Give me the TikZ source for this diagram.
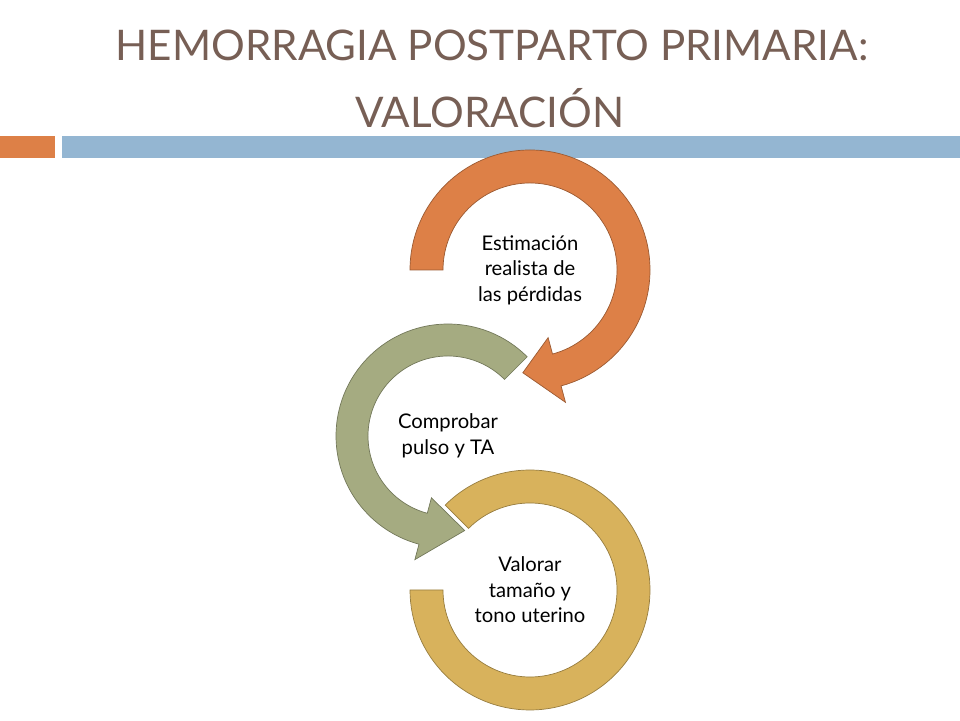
\documentclass[tikz,border=0pt]{standalone}
\usepackage{fontspec}
\setmainfont{Lato}
\usetikzlibrary{positioning,calc}

\definecolor{accorange}{HTML}{DD8047}
\definecolor{accblue}{HTML}{94B6D2}
\definecolor{accgreen}{HTML}{A5AB81}
\definecolor{accyellow}{HTML}{D8B25C}
\definecolor{titlebrown}{HTML}{775F55}

\tikzset{
  ring/.style={draw=#1!70!black, line width=0.4pt, fill=#1},
  steptext/.style={align=center, font=\fontsize{11.5}{14.5}\selectfont, text=black},
  titletext/.style={font=\fontsize{24}{28}\selectfont, text=titlebrown}
}

\begin{document}
\begin{tikzpicture}[x=0.02cm, y=0.02cm]
\useasboundingbox (0,0) rectangle (960,720);

% title and bar
\node [titletext] (title-1) at (492,675) {HEMORRAGIA POSTPARTO PRIMARIA:};
\node [titletext] (title-2) at (490,612) {VALORACIÓN};
\fill [accorange] (0,562) rectangle (55,584);
\fill [accblue] (62,562) rectangle (960,584);

% yellow ring
\begin{scope}[shift={(530,130)}]
  \filldraw [ring=accyellow] (135:120) arc (135:-180:120) -- (180:87)
    arc (-180:135:87) -- cycle;
  \node [steptext] (valorar) at (0,0) {Valorar\\tamaño y\\tono uterino};
\end{scope}

% green arrow
\begin{scope}[shift={(448,284)}]
  \filldraw [ring=accgreen] (45:112) arc (45:255:112) -- (255:128)
    -- (280:96) -- (255:64) -- (255:80) arc (255:45:80) -- cycle;
  \node [steptext] (comprobar) at (0,0) {Comprobar\\pulso y TA};
\end{scope}

% orange arrow
\begin{scope}[shift={(530,450)}]
  \filldraw [ring=accorange] (180:120) arc (180:-75:120) -- (-75:137)
    -- (-94:103) -- (-75:70) -- (-75:87) arc (-75:180:87) -- cycle;
  \node [steptext] (estimacion) at (0,0) {Estimación\\realista de\\las pérdidas};
\end{scope}

\end{tikzpicture}
\end{document}
